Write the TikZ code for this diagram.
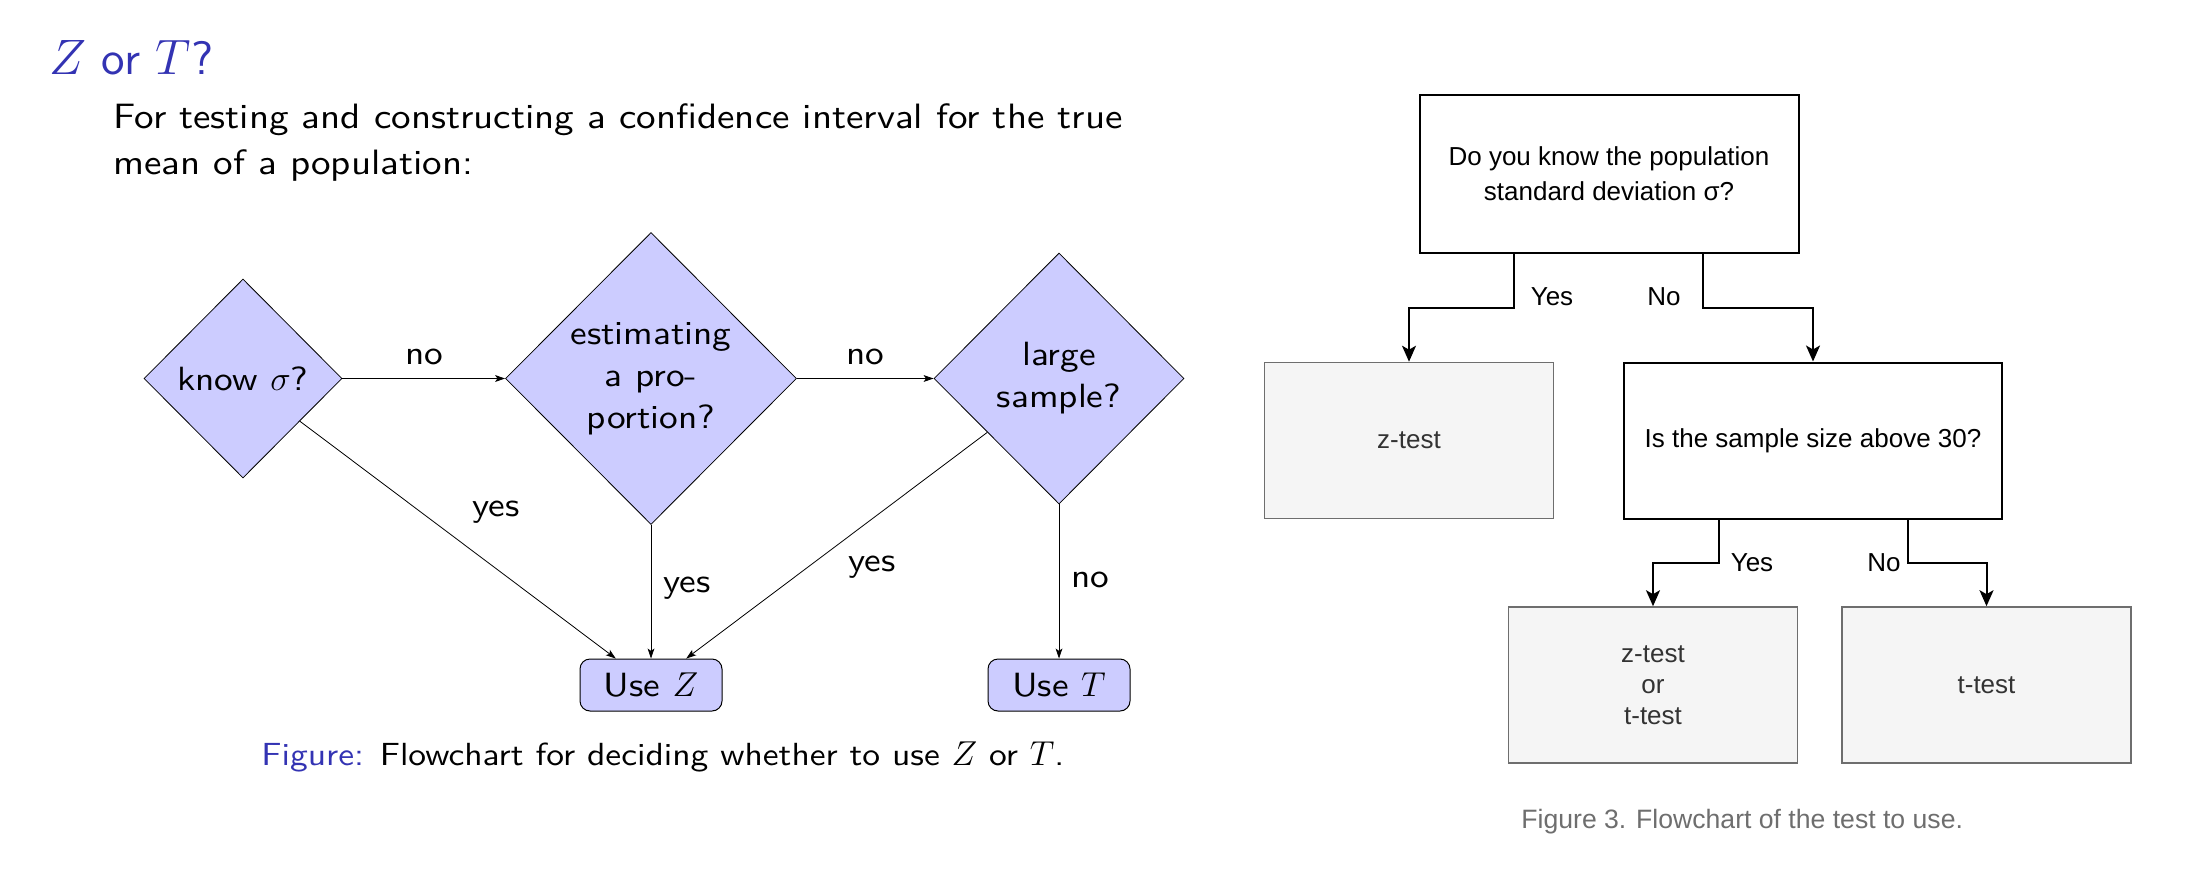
\documentclass[tikz,border=0pt]{standalone}
\usepackage{fontspec}
\usetikzlibrary{shapes.geometric,arrows.meta}
\newfontfamily\helv{Liberation Sans}
\newfontfamily\bsf{lmsans10-regular.otf}[FakeStretch=1.11]
\newfontfamily\tsf{lmsans10-regular.otf}
\definecolor{beamerblue}{RGB}{51,51,179}
\definecolor{boxblue}{RGB}{204,204,255}
\definecolor{gfill}{RGB}{245,245,245}
\definecolor{gline}{RGB}{110,110,110}
\definecolor{gtext}{RGB}{51,51,51}
\definecolor{capgray}{RGB}{110,110,110}
\begin{document}
\begin{tikzpicture}[x=0.5pt,y=-0.5pt,
  lefttxt/.style={font=\bsf\fontsize{17.6}{22.5}\selectfont, inner sep=0pt},
  dia/.style={diamond, draw=black, fill=boxblue, line width=0.4pt, inner sep=1pt, align=center,
    font=\bsf\fontsize{16.8}{21}\selectfont},
  term/.style={rectangle, rounded corners=5pt, draw=black, fill=boxblue, line width=0.5pt,
    minimum width=71pt, minimum height=26pt, inner sep=0pt, font=\bsf\fontsize{16.8}{21}\selectfont},
  lbl/.style={font=\bsf\fontsize{16.8}{21}\selectfont, inner sep=0pt},
  arrL/.style={-{Stealth[length=5pt,width=3.4pt,inset=1.2pt]}, line width=0.4pt},
  wbox/.style={rectangle, draw=black, fill=white, line width=1pt, align=center,
    font=\helv\fontsize{13}{17.5}\selectfont, inner sep=0pt},
  gbox/.style={rectangle, draw=gline, fill=gfill, line width=0.8pt, align=center, text=gtext,
    font=\helv\fontsize{13}{15.5}\selectfont, inner sep=0pt, minimum width=144.5pt, minimum height=78pt},
  rlbl/.style={font=\helv\fontsize{13}{15.5}\selectfont, inner sep=0pt},
  arrR/.style={-{Stealth[length=8pt,width=7pt,inset=2pt]}, line width=1pt},
]
\useasboundingbox (0,0) rectangle (2210,894);

% ---------- left: beamer slide ----------
\node[anchor=base west, inner sep=0pt, text=beamerblue, font=\tsf\fontsize{23.5}{27}\selectfont]
  (title) at (49,74) {$Z$ or $T$?};
\node[lefttxt, anchor=base west] (body1) at (113,128)
  {For testing and constructing a confidence interval for the true};
\node[lefttxt, anchor=base west] (body2) at (113,174) {mean of a population:};

\node[dia, minimum width=99pt, minimum height=99.5pt] (know) at (243,378.5) {know $\sigma$?};
\node[dia, minimum width=145.5pt, minimum height=146pt] (est) at (651,378.5) {estimating\\a pro-\\portion?};
\node[dia, minimum width=125pt, minimum height=125.5pt] (large) at (1059,378.5) {large\\sample?};
\node[term] (usez) at (651,685) {Use $Z$};
\node[term] (uset) at (1059,685) {Use $T$};

\draw[arrL] (know) -- (est);
\draw[arrL] (est) -- (large);
\draw[arrL] (know) -- (usez);
\draw[arrL] (est) -- (usez);
\draw[arrL] (large) -- (usez);
\draw[arrL] (large) -- (uset);

\node[lbl] (lno1) at (424,357) {no};
\node[lbl] (lno2) at (865,357) {no};
\node[lbl] (lyes1) at (496,512) {yes};
\node[lbl] (lyes2) at (687,588) {yes};
\node[lbl] (lyes3) at (872,567) {yes};
\node[lbl] (lno3) at (1090,580) {no};

\node[anchor=base west, inner sep=0pt, font=\bsf\fontsize{16}{19}\selectfont] (cap1) at (261,765)
  {\textcolor{beamerblue}{Figure:} Flowchart for deciding whether to use $Z$ or $T$.};

% ---------- right: flowchart ----------
\node[wbox, minimum width=189.5pt, minimum height=79pt] (q1) at (1609,173.5)
  {Do you know the population\\standard deviation σ?};
\node[gbox] (zt) at (1409,440.5) {z-test};
\node[wbox, minimum width=189pt, minimum height=78pt] (q2) at (1813,440.5)
  {Is the sample size above 30?};
\node[gbox] (zort) at (1653,685) {z-test\\or\\t-test};
\node[gbox] (tt) at (1986.5,685) {t-test};

\draw[arrR] ([xshift=-47.3pt]q1.south) -- ++(0,54.7) -| (zt.north);
\draw[arrR] ([xshift=47pt]q1.south) -- ++(0,54.7) -| (q2.north);
\draw[arrR] ([xshift=-47.1pt]q2.south) -- ++(0,43.4) -| (zort.north);
\draw[arrR] ([xshift=47.3pt]q2.south) -- ++(0,43.4) -| (tt.north);

\node[rlbl] (ry1) at (1552,297) {Yes};
\node[rlbl] (rn1) at (1664,297) {No};
\node[rlbl] (ry2) at (1752,563) {Yes};
\node[rlbl] (rn2) at (1884,563) {No};

\node[anchor=base west, inner sep=0pt, text=capgray, font=\helv\fontsize{13.3}{15}\selectfont] (cap2)
  at (1521,828) {Figure 3. Flowchart of the test to use.};
\end{tikzpicture}
\end{document}
